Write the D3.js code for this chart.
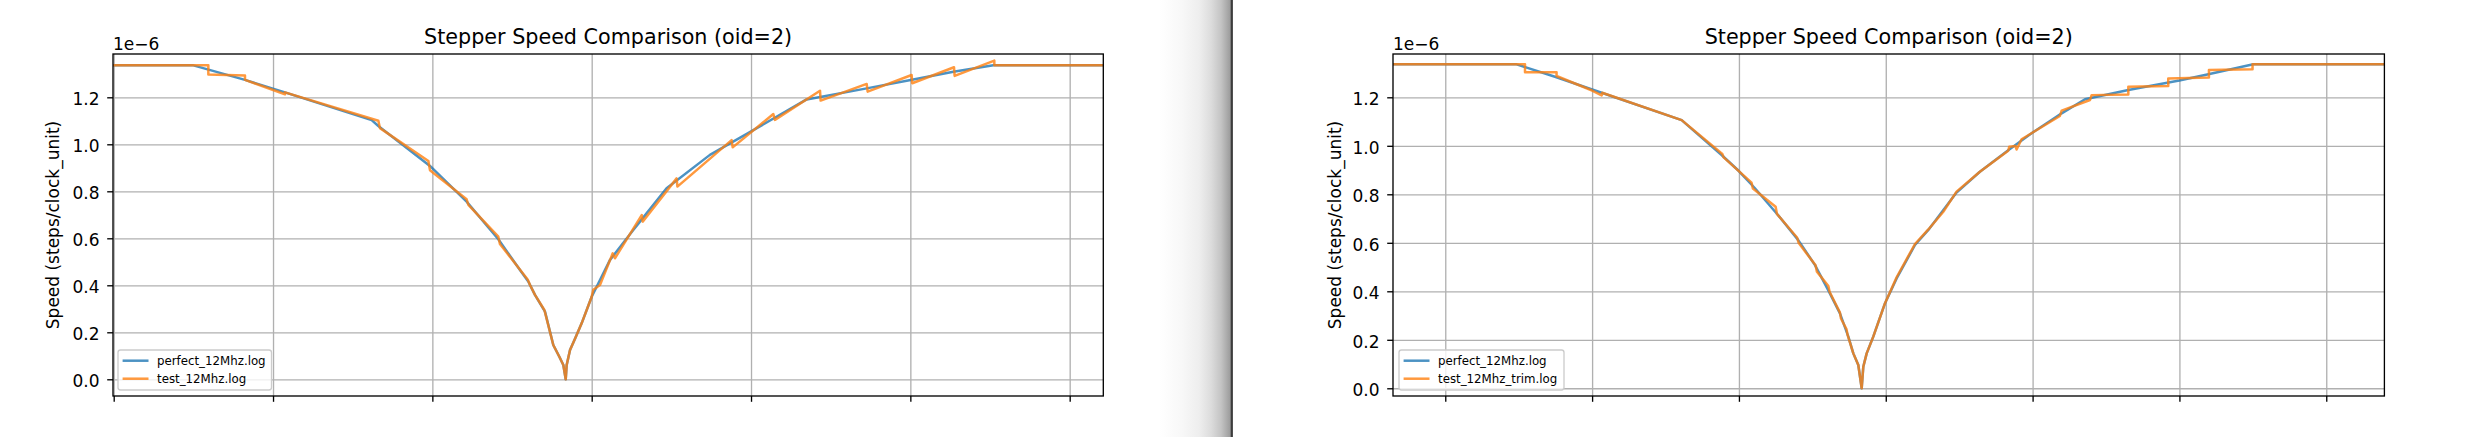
<!DOCTYPE html>
<html><head><meta charset="utf-8">
<script src="https://cdn.jsdelivr.net/npm/d3@7"></script>
<style>body{margin:0;background:#fff}svg{display:block}text{font-family:"DejaVu Sans",sans-serif;fill:#000}</style>
</head><body>
<svg id="c" width="2477" height="437"></svg>
<script>
// ---- data ----
const chartTitle = "Stepper Speed Comparison (oid=2)";
const yLabel = "Speed (steps/clock_unit)";
const yTicks = [0, 0.2, 0.4, 0.6, 0.8, 1.0, 1.2];
const xTicks = [0, 1, 2, 3, 4, 5, 6];
const offsetLabel = "1e\u22126";
const legendLeft = ["perfect_12Mhz.log", "test_12Mhz.log"];
const legendRight = ["perfect_12Mhz.log", "test_12Mhz_trim.log"];

// [time (tick units), speed (×1e-6 steps/clock_unit)]
const perfectLeft = [[-0.05,1.336],[0.50,1.336],[0.824,1.274],[1.075,1.221],[1.619,1.103],[1.661,1.078],[1.985,0.908],[2.215,0.756],[2.414,0.596],[2.550,0.465],[2.602,0.416],[2.644,0.359],[2.707,0.288],[2.759,0.146],[2.797,0.096],[2.822,0.061],[2.837,0],[2.843,0.061],[2.864,0.125],[2.896,0.174],[2.937,0.238],[3.000,0.351],[3.115,0.508],[3.261,0.635],[3.303,0.671],[3.470,0.813],[3.742,0.955],[3.998,1.054],[4.349,1.191],[4.726,1.238],[5.002,1.274],[5.270,1.309],[5.521,1.336],[6.3,1.336]];
const testLeft = [[-0.05,1.336],[0.594,1.336],[0.594,1.297],[0.824,1.293],[0.824,1.274],[1.075,1.213],[1.075,1.221],[1.661,1.100],[1.671,1.069],[1.975,0.929],[1.985,0.890],[2.215,0.766],[2.226,0.742],[2.414,0.607],[2.424,0.576],[2.598,0.425],[2.613,0.401],[2.644,0.359],[2.703,0.295],[2.711,0.274],[2.759,0.146],[2.797,0.096],[2.822,0.061],[2.837,0],[2.843,0.061],[2.864,0.125],[2.896,0.174],[2.937,0.238],[3.000,0.351],[3.010,0.381],[3.052,0.401],[3.132,0.536],[3.146,0.515],[3.314,0.699],[3.320,0.671],[3.533,0.855],[3.538,0.820],[3.878,1.018],[3.885,0.987],[4.140,1.129],[4.150,1.104],[4.433,1.228],[4.437,1.186],[4.726,1.257],[4.732,1.224],[5.008,1.295],[5.012,1.260],[5.274,1.328],[5.278,1.291],[5.527,1.356],[5.527,1.336],[6.3,1.336]];
const perfectRight = [[-0.5,1.336],[0.486,1.336],[0.747,1.285],[1.065,1.219],[1.610,1.106],[1.882,0.962],[1.996,0.898],[2.109,0.825],[2.257,0.721],[2.404,0.611],[2.518,0.508],[2.608,0.405],[2.688,0.309],[2.745,0.213],[2.779,0.144],[2.813,0.096],[2.836,0],[2.847,0.089],[2.870,0.144],[2.915,0.213],[2.995,0.351],[3.074,0.453],[3.199,0.591],[3.290,0.653],[3.482,0.807],[3.641,0.893],[3.834,0.982],[3.998,1.054],[4.198,1.134],[4.357,1.192],[4.652,1.230],[4.999,1.269],[5.197,1.295],[5.503,1.336],[6.5,1.336]];
const testTrimRight = [[-0.5,1.336],[0.543,1.336],[0.543,1.303],[0.758,1.303],[0.758,1.288],[1.0,1.228],[1.065,1.208],[1.069,1.219],[1.610,1.106],[1.887,0.966],[1.896,0.952],[2.086,0.848],[2.095,0.824],[2.250,0.749],[2.259,0.719],[2.397,0.621],[2.406,0.600],[2.522,0.507],[2.531,0.481],[2.609,0.422],[2.618,0.397],[2.688,0.312],[2.695,0.288],[2.733,0.243],[2.740,0.220],[2.779,0.144],[2.813,0.096],[2.836,0],[2.847,0.089],[2.870,0.144],[2.915,0.213],[2.995,0.351],[3.074,0.458],[3.199,0.595],[3.290,0.655],[3.392,0.728],[3.482,0.811],[3.641,0.893],[3.834,0.980],[3.841,0.996],[3.884,0.999],[3.891,0.985],[3.925,1.027],[3.998,1.054],[4.186,1.123],[4.198,1.145],[4.391,1.189],[4.402,1.209],[4.652,1.212],[4.652,1.244],[4.924,1.247],[4.924,1.278],[5.201,1.282],[5.201,1.313],[5.498,1.316],[5.498,1.336],[6.5,1.336]];

const colors = ["#1f77b4", "#ff7f0e"];

// ---- layout ----
const panels = [
  {left:113, right:1103.3, top:54, bottom:396, xd:[-0.0044,6.211], yd:[-0.0711,1.3843],
   series:[perfectLeft,testLeft], names:legendLeft, lg:{x:118,y:350,w:153.5,h:40}, ylabX:59},
  {left:1393, right:2384.4, top:54, bottom:396, xd:[-0.356,6.396], yd:[-0.0318,1.3786],
   series:[perfectRight,testTrimRight], names:legendRight, lg:{x:1399,y:350,w:165,h:40}, ylabX:1341}
];

const svg = d3.select("#c");
const defs = svg.append("defs");

// separator between the two screenshots
const grad = defs.append("linearGradient").attr("id","sep").attr("x1","0").attr("x2","1").attr("y1","0").attr("y2","0");
[[0,"#ffffff"],[0.3,"#f8f8f8"],[0.55,"#eeeeee"],[0.72,"#dcdcdc"],[0.86,"#c4c4c4"],[1,"#999999"]]
  .forEach(([o,c]) => grad.append("stop").attr("offset",o).attr("stop-color",c));
svg.append("rect").attr("x",1160).attr("y",0).attr("width",71).attr("height",437).attr("fill","url(#sep)");
svg.append("rect").attr("x",1230.7).attr("y",0).attr("width",2.2).attr("height",437).attr("fill","#3c3c3c");

panels.forEach((p, i) => {
  const x = d3.scaleLinear().domain(p.xd).range([p.left, p.right]);
  const y = d3.scaleLinear().domain(p.yd).range([p.bottom, p.top]);
  const w = p.right - p.left, h = p.bottom - p.top;
  const g = svg.append("g");

  defs.append("clipPath").attr("id","clip"+i).append("rect")
    .attr("x",p.left).attr("y",p.top).attr("width",w).attr("height",h);

  // grid
  const gx = g.append("g").attr("transform",`translate(0,${p.bottom})`)
    .call(d3.axisBottom(x).tickValues(xTicks).tickSize(-h).tickFormat(""));
  const gy = g.append("g").attr("transform",`translate(${p.left},0)`)
    .call(d3.axisLeft(y).tickValues(yTicks).tickSize(-w).tickFormat(""));
  [gx,gy].forEach(a => { a.select(".domain").remove();
    a.selectAll("line").attr("stroke","#b0b0b0").attr("stroke-width",1.33); });

  // lines
  const line = d3.line().x(d => x(d[0])).y(d => y(d[1]));
  const lg = g.append("g").attr("clip-path",`url(#clip${i})`);
  p.series.forEach((s, k) => {
    lg.append("path").datum(s).attr("d",line).attr("fill","none")
      .attr("stroke",colors[k]).attr("stroke-opacity",0.8).attr("stroke-width",2.5)
      .attr("stroke-linejoin","round").attr("stroke-linecap","square");
  });

  // axes (ticks)
  const ax = g.append("g").attr("transform",`translate(0,${p.bottom})`)
    .call(d3.axisBottom(x).tickValues(xTicks).tickSize(5.8).tickFormat(""));
  const ay = g.append("g").attr("transform",`translate(${p.left},0)`)
    .call(d3.axisLeft(y).tickValues(yTicks).tickSize(5.8).tickPadding(7.7).tickFormat(d3.format(".1f")));
  [ax,ay].forEach(a => { a.select(".domain").remove();
    a.selectAll("line").attr("stroke","#000").attr("stroke-width",1.33); });
  ay.selectAll("text").attr("font-size",17).attr("font-family","DejaVu Sans").attr("dy","0.43em").attr("fill","#000");

  // spines
  g.append("rect").attr("x",p.left).attr("y",p.top).attr("width",w).attr("height",h)
    .attr("fill","none").attr("stroke","#000").attr("stroke-width",1.33);

  // title, offset, ylabel
  g.append("text").attr("x",(p.left+p.right)/2).attr("y",44).attr("text-anchor","middle")
    .attr("font-size",20.7).text(chartTitle);
  g.append("text").attr("x",p.left).attr("y",49.5).attr("font-size",17).text(offsetLabel);
  g.append("text").attr("transform",`translate(${p.ylabX},${(p.top+p.bottom)/2}) rotate(-90)`)
    .attr("text-anchor","middle").attr("font-size",17).text(yLabel);

  // legend
  const L = p.lg;
  const leg = g.append("g");
  leg.append("rect").attr("x",L.x).attr("y",L.y).attr("width",L.w).attr("height",L.h)
    .attr("rx",2.5).attr("fill","#fff").attr("fill-opacity",0.8).attr("stroke","#cccccc").attr("stroke-width",1.33);
  p.names.forEach((n, k) => {
    const ly = L.y + 10.7 + k*18;
    leg.append("line").attr("x1",L.x+4.6).attr("x2",L.x+30.5).attr("y1",ly).attr("y2",ly)
      .attr("stroke",colors[k]).attr("stroke-opacity",0.8).attr("stroke-width",2.5);
    leg.append("text").attr("x",L.x+39).attr("y",ly+3.9).attr("font-size",11.8).text(n);
  });
});
</script>
</body></html>
